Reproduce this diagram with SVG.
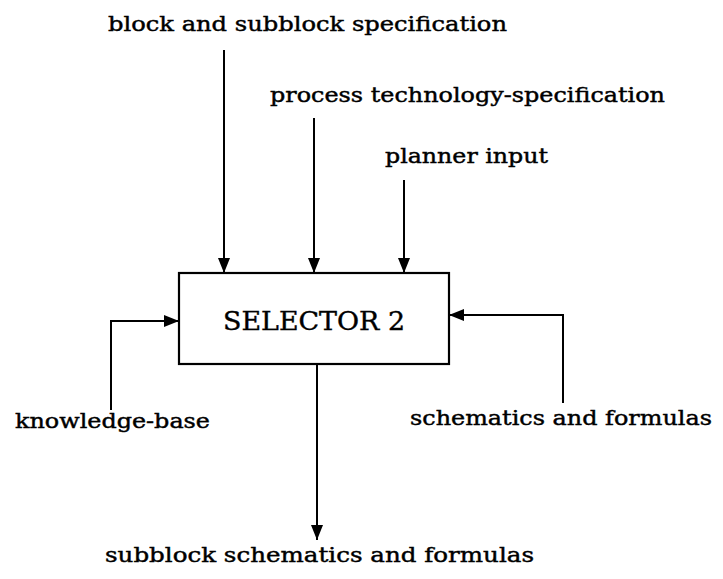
<svg xmlns="http://www.w3.org/2000/svg" width="723" height="579" viewBox="0 0 723 579">
  <style>
    .lbl { font-family: "DejaVu Serif", "Liberation Serif", serif; font-size: 21px; fill: #000; stroke: #000; stroke-width: 0.45; }
    .title { font-family: "DejaVu Serif", "Liberation Serif", serif; font-size: 26px; fill: #000; stroke: #000; stroke-width: 0.4; }
    .box { fill: #fff; stroke: #000; stroke-width: 2.2; }
    .wire { fill: none; stroke: #000; stroke-width: 2; }
  </style>
  <defs>
    <marker id="arrow" viewBox="0 0 15 12" refX="15" refY="6" markerWidth="15" markerHeight="12" markerUnits="userSpaceOnUse" orient="auto">
      <path d="M0,0 L15,6 L0,12 Z" fill="#000"/>
    </marker>
  </defs>

  <rect width="723" height="579" fill="#fff"/>

  <g id="connectors">
    <line class="wire" x1="224" y1="50" x2="224" y2="273" marker-end="url(#arrow)"/>
    <line class="wire" x1="314" y1="118" x2="314" y2="273" marker-end="url(#arrow)"/>
    <line class="wire" x1="404" y1="180" x2="404" y2="273" marker-end="url(#arrow)"/>
    <path class="wire" d="M111,410 V321 H179" marker-end="url(#arrow)"/>
    <path class="wire" d="M563,403 V315 H449" marker-end="url(#arrow)"/>
    <line class="wire" x1="317" y1="364" x2="317" y2="540" marker-end="url(#arrow)"/>
  </g>

  <g id="selector2">
    <rect class="box" x="179" y="273" width="270" height="91"/>
    <text class="title" x="223" y="330" textLength="182" lengthAdjust="spacingAndGlyphs">SELECTOR 2</text>
  </g>

  <g id="block-spec">
    <text class="lbl" x="108" y="31" textLength="399" lengthAdjust="spacingAndGlyphs">block and subblock specification</text>
  </g>
  <g id="process-spec">
    <text class="lbl" x="270" y="102" textLength="395" lengthAdjust="spacingAndGlyphs">process technology-specification</text>
  </g>
  <g id="planner-input">
    <text class="lbl" x="385" y="163" textLength="163" lengthAdjust="spacingAndGlyphs">planner input</text>
  </g>
  <g id="knowledge-base">
    <text class="lbl" x="15" y="428" textLength="195" lengthAdjust="spacingAndGlyphs">knowledge-base</text>
  </g>
  <g id="schematics-formulas">
    <text class="lbl" x="410" y="425" textLength="302" lengthAdjust="spacingAndGlyphs">schematics and formulas</text>
  </g>
  <g id="subblock-output">
    <text class="lbl" x="105" y="562" textLength="429" lengthAdjust="spacingAndGlyphs">subblock schematics and formulas</text>
  </g>
</svg>
